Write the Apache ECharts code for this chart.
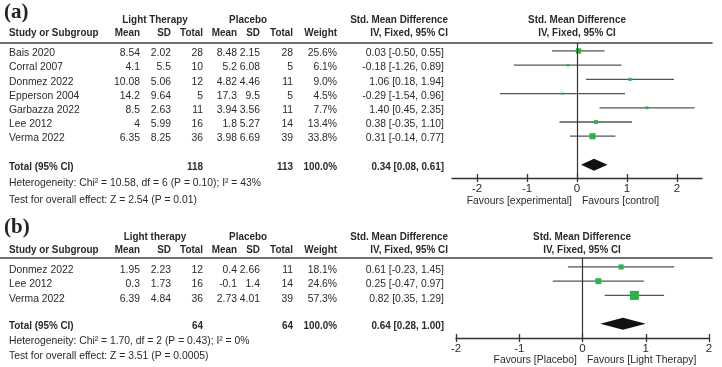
<!DOCTYPE html>
<html>
<head>
<meta charset="utf-8">
<script src="https://cdn.jsdelivr.net/npm/echarts@6/dist/echarts.min.js"></script>
<style>
  html, body { margin: 0; background: #fff; }
  #chart { width: 722px; height: 367px; }
</style>
</head>
<body>
<div id="chart"></div>
<script>
// ---- panel (a) ----
const studiesA = ["Bais 2020", "Corral 2007", "Donmez 2022", "Epperson 2004", "Garbazza 2022", "Lee 2012", "Verma 2022"];
const ltMeanA = [8.54, 4.1, 10.08, 14.2, 8.5, 4, 6.35];
const ltSdA = [2.02, 5.5, 5.06, 9.64, 2.63, 5.99, 8.25];
const ltTotalA = [28, 10, 12, 5, 11, 16, 36];
const plMeanA = [8.48, 5.2, 4.82, 17.3, 3.94, 1.8, 3.98];
const plSdA = [2.15, 6.08, 4.46, 9.5, 3.56, 5.27, 6.69];
const plTotalA = [28, 5, 11, 5, 11, 14, 39];
const weightA = [25.6, 6.1, 9.0, 4.5, 7.7, 13.4, 33.8];
const smdA = [0.03, -0.18, 1.06, -0.29, 1.40, 0.38, 0.31];
const lowA = [-0.50, -1.26, 0.18, -1.54, 0.45, -0.35, -0.14];
const highA = [0.55, 0.89, 1.94, 0.96, 2.35, 1.10, 0.77];
const totalA = { lt: 118, pl: 113, weight: 100.0, smd: 0.34, low: 0.08, high: 0.61 };
const hetA = "Heterogeneity: Chi² = 10.58, df = 6 (P = 0.10); I² = 43%";
const testA = "Test for overall effect: Z = 2.54 (P = 0.01)";
const groupA = "Light Therapy";
const favoursA = ["Favours [experimental]", "Favours [control]"];
const ticksA = [-2, -1, 0, 1, 2];

// ---- panel (b) ----
const studiesB = ["Donmez 2022", "Lee 2012", "Verma 2022"];
const ltMeanB = [1.95, 0.3, 6.39];
const ltSdB = [2.23, 1.73, 4.84];
const ltTotalB = [12, 16, 36];
const plMeanB = [0.4, -0.1, 2.73];
const plSdB = [2.66, 1.4, 4.01];
const plTotalB = [11, 14, 39];
const weightB = [18.1, 24.6, 57.3];
const smdB = [0.61, 0.25, 0.82];
const lowB = [-0.23, -0.47, 0.35];
const highB = [1.45, 0.97, 1.29];
const totalB = { lt: 64, pl: 64, weight: 100.0, smd: 0.64, low: 0.28, high: 1.00 };
const hetB = "Heterogeneity: Chi² = 1.70, df = 2 (P = 0.43); I² = 0%";
const testB = "Test for overall effect: Z = 3.51 (P = 0.0005)";
const groupB = "Light therapy";
const favoursB = ["Favours [Placebo]", "Favours [Light Therapy]"];
const ticksB = [-2, -1, 0, 1, 2];

const FONT = "'Liberation Sans', Arial, sans-serif";
const TEXT = "#2a2a2a";
const GREEN = "#2eb34c";

// column anchors (px) of the table part
const COL = { study: 9, mean1: 140, sd1: 171, tot1: 203, mean2: 237, sd2: 260, tot2: 293, weight: 337, ci: 444, head: 448, group1: 155, group2: 248 };

function cell(x, row, text, align, bold, dy) {
  return { x: x, row: row, text: String(text), align: align, bold: !!bold, dy: dy || 0 };
}

const ci = (e, l, h) => `${e.toFixed(2)} [${l.toFixed(2)}, ${h.toFixed(2)}]`;

function tableCells(p) {
  const out = [];
  const r = p.rows;
  out.push(cell(COL.group1, r.h1, p.group, "center", true));
  out.push(cell(COL.group2, r.h1, "Placebo", "center", true));
  out.push(cell(COL.head, r.h1, "Std. Mean Difference", "right", true));
  out.push(cell(p.zeroX, r.h1, "Std. Mean Difference", "center", true));
  out.push(cell(COL.study, r.h2, "Study or Subgroup", "left", true));
  out.push(cell(COL.mean1, r.h2, "Mean", "right", true));
  out.push(cell(COL.sd1, r.h2, "SD", "right", true));
  out.push(cell(COL.tot1, r.h2, "Total", "right", true));
  out.push(cell(COL.mean2, r.h2, "Mean", "right", true));
  out.push(cell(COL.sd2, r.h2, "SD", "right", true));
  out.push(cell(COL.tot2, r.h2, "Total", "right", true));
  out.push(cell(COL.weight, r.h2, "Weight", "right", true));
  out.push(cell(COL.head, r.h2, "IV, Fixed, 95% CI", "right", true));
  out.push(cell(p.zeroX, r.h2, "IV, Fixed, 95% CI", "center", true));
  p.studies.forEach((s, i) => {
    out.push(cell(COL.study, i, s, "left", false, r.dy));
    out.push(cell(COL.mean1, i, p.m1[i], "right", false, r.dy));
    out.push(cell(COL.sd1, i, p.s1[i], "right", false, r.dy));
    out.push(cell(COL.tot1, i, p.n1[i], "right", false, r.dy));
    out.push(cell(COL.mean2, i, p.m2[i], "right", false, r.dy));
    out.push(cell(COL.sd2, i, p.s2[i], "right", false, r.dy));
    out.push(cell(COL.tot2, i, p.n2[i], "right", false, r.dy));
    out.push(cell(COL.weight, i, p.w[i].toFixed(1) + "%", "right", false, r.dy));
    out.push(cell(COL.ci, i, ci(p.smd[i], p.low[i], p.high[i]), "right", false, r.dy));
  });
  const t = p.total;
  out.push(cell(COL.study, r.total, "Total (95% CI)", "left", true, 2));
  out.push(cell(COL.tot1, r.total, t.lt, "right", true, 2));
  out.push(cell(COL.tot2, r.total, t.pl, "right", true, 2));
  out.push(cell(COL.weight, r.total, t.weight.toFixed(1) + "%", "right", true, 2));
  out.push(cell(COL.ci, r.total, ci(t.smd, t.low, t.high), "right", true, 2));
  out.push(cell(COL.study, r.het, p.het, "left", false));
  out.push(cell(COL.study, r.test, p.test, "left", false));
  out.push(cell(p.zeroX - 5, r.fav, p.fav[0], "right", false));
  out.push(cell(p.zeroX + 5, r.fav, p.fav[1], "left", false));
  return out;
}

const panels = [
  {
    studies: studiesA, m1: ltMeanA, s1: ltSdA, n1: ltTotalA, m2: plMeanA, s2: plSdA, n2: plTotalA,
    w: weightA, smd: smdA, low: lowA, high: highA, total: totalA, het: hetA, test: testA,
    group: groupA, fav: favoursA, ticks: ticksA,
    grid: { top: 43, height: 135, left: 452, width: 250 }, xMin: -2.5, xMax: 2.5, yMin: -0.56, yMax: 8.94,
    zeroX: 577, boxK: 1.05,
    rows: { h1: -2.18, h2: -1.27, dy: 2, total: 8, het: 9.3, test: 10.5, fav: 10.55 },
  },
  {
    studies: studiesB, m1: ltMeanB, s1: ltSdB, n1: ltTotalB, m2: plMeanB, s2: plSdB, n2: plTotalB,
    w: weightB, smd: smdB, low: lowB, high: highB, total: totalB, het: hetB, test: testB,
    group: groupB, fav: favoursB, ticks: ticksB,
    grid: { top: 258, height: 80, left: 456, width: 253 }, xMin: -2, xMax: 2, yMin: -0.63, yMax: 5.0,
    zeroX: 582, boxK: 1.2,
    rows: { h1: -2.11, h2: -1.2, dy: 3, total: 4, het: 5.2, test: 6.27, fav: 6.55 },
  },
];

const grids = [], xAxes = [], yAxes = [], series = [];

panels.forEach((p, k) => {
  const gT = grids.length;
  grids.push({ left: 0, width: 712, top: p.grid.top, height: p.grid.height });
  grids.push({ left: p.grid.left, width: p.grid.width, top: p.grid.top, height: p.grid.height });
  const yT = yAxes.length;
  [gT, gT + 1].forEach((g) => {
    yAxes.push({ type: "value", gridIndex: g, min: p.yMin, max: p.yMax, inverse: true, show: false });
  });
  const xT = xAxes.length;
  // table rule under the header
  xAxes.push({
    type: "value", gridIndex: gT, min: 0, max: 712, position: "top",
    axisLine: { show: true, onZero: false, lineStyle: { color: "#444", width: 1.6 } },
    axisTick: { show: false }, axisLabel: { show: false }, splitLine: { show: false },
  });
  // forest axis: labels + outward ticks
  xAxes.push({
    type: "value", gridIndex: gT + 1, min: p.xMin, max: p.xMax, position: "bottom",
    axisLine: { show: true, onZero: false, lineStyle: { color: "#333", width: 1.3 } },
    axisTick: { show: true, inside: false, length: 4, customValues: p.ticks, lineStyle: { color: "#333", width: 1.3 } },
    axisLabel: { show: true, customValues: p.ticks, margin: 5, color: TEXT, fontFamily: FONT, fontSize: 11.5 },
    splitLine: { show: false },
  });
  // forest axis: inward ticks
  xAxes.push({
    type: "value", gridIndex: gT + 1, min: p.xMin, max: p.xMax, position: "bottom",
    axisLine: { show: false, onZero: false },
    axisTick: { show: true, inside: true, length: 4, customValues: p.ticks, lineStyle: { color: "#333", width: 1.3 } },
    axisLabel: { show: false }, splitLine: { show: false },
  });

  // table text: slightly condensed like the source figure
  const cells = tableCells(p);
  series.push({
    type: "custom", xAxisIndex: xT, yAxisIndex: yT, silent: true, clip: false,
    encode: { x: 0, y: 1 },
    data: cells.map((c) => [c.x, c.row]),
    renderItem: (params, api) => {
      const c = cells[params.dataIndex];
      const pt = api.coord([api.value(0), api.value(1)]);
      return {
        type: "text",
        x: pt[0], y: pt[1] + c.dy,
        scaleX: c.bold ? 0.86 : 0.9,
        style: {
          text: c.text, fill: TEXT, fontFamily: FONT, fontSize: 11.5,
          fontWeight: c.bold ? "bold" : "normal",
          align: c.align, verticalAlign: "middle",
        },
      };
    },
  });

  // confidence intervals
  series.push({
    type: "custom", xAxisIndex: xT + 1, yAxisIndex: yT + 1, silent: true, clip: false,
    encode: { x: [0, 1], y: 2 },
    data: p.studies.map((s, i) => [p.low[i], p.high[i], i]),
    renderItem: (params, api) => {
      const a = api.coord([api.value(0), api.value(2)]);
      const b = api.coord([api.value(1), api.value(2)]);
      return {
        type: "line",
        shape: { x1: a[0], y1: a[1], x2: b[0], y2: b[1] },
        style: { stroke: "#555", lineWidth: 1.3 },
      };
    },
    markLine: {
      silent: true, symbol: "none", label: { show: false },
      lineStyle: { color: "#333", type: "solid", width: 1.2 },
      data: [{ xAxis: 0 }],
    },
  });

  // study estimates (box size from weight)
  series.push({
    type: "scatter", xAxisIndex: xT + 1, yAxisIndex: yT + 1, silent: true, symbol: "rect",
    symbolSize: (v) => p.boxK * Math.sqrt(v[2]),
    itemStyle: { color: GREEN, opacity: 1 },
    data: p.studies.map((s, i) => [p.smd[i], i, p.w[i]]),
  });

  // pooled estimate diamond
  series.push({
    type: "custom", xAxisIndex: xT + 1, yAxisIndex: yT + 1, silent: true,
    encode: { x: [0, 1, 2], y: 3 },
    data: [[p.total.smd, p.total.low, p.total.high, p.rows.total]],
    renderItem: (params, api) => {
      const r = api.value(3);
      const c = api.coord([api.value(0), r]);
      const l = api.coord([api.value(1), r]);
      const h = api.coord([api.value(2), r]);
      return {
        type: "polygon",
        shape: { points: [[l[0], l[1]], [c[0], c[1] - 6], [h[0], h[1]], [c[0], c[1] + 6]] },
        style: { fill: "#111" },
      };
    },
  });
});

const chart = echarts.init(document.getElementById("chart"), null, { renderer: "canvas" });
chart.setOption({
  animation: false,
  backgroundColor: "#fff",
  title: [
    { text: "(a)", left: 4, top: 2, padding: 0, textStyle: { fontFamily: "'Liberation Serif', 'Times New Roman', serif", fontWeight: "bold", fontSize: 21, color: "#222" } },
    { text: "(b)", left: 4, top: 217, padding: 0, textStyle: { fontFamily: "'Liberation Serif', 'Times New Roman', serif", fontWeight: "bold", fontSize: 21, color: "#222" } },
  ],
  grid: grids,
  xAxis: xAxes,
  yAxis: yAxes,
  series: series,
});
</script>
</body>
</html>
